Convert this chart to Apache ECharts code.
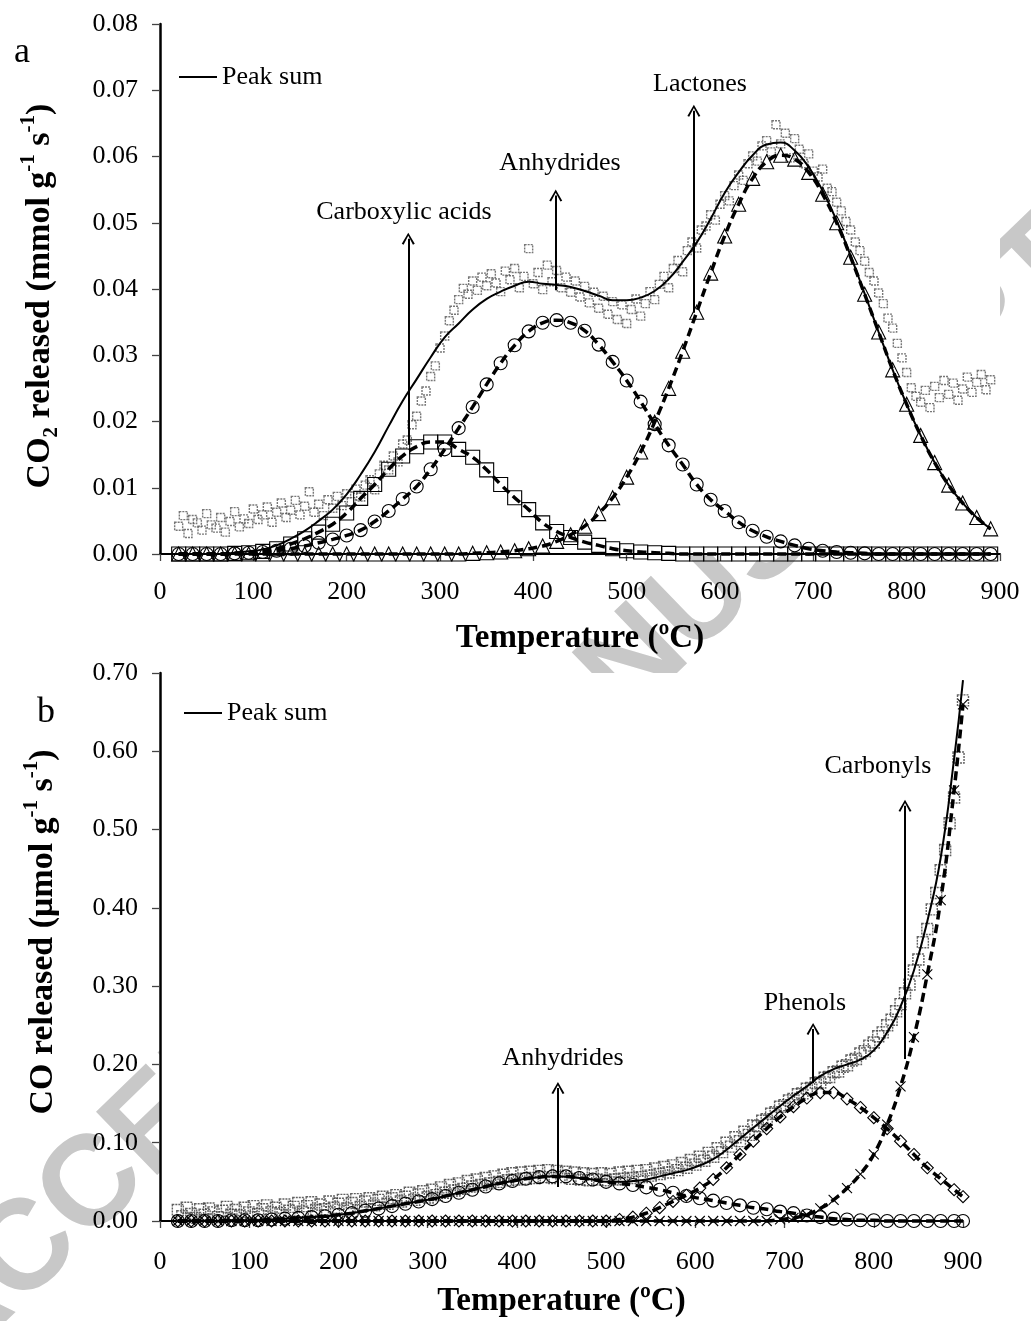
<!DOCTYPE html>
<html><head><meta charset="utf-8">
<script src="https://cdn.jsdelivr.net/npm/echarts/dist/echarts.min.js"></script>
<style>html,body{margin:0;padding:0;background:#fff}#c{width:1031px;height:1321px}</style>
</head><body><div id="c"></div><script>
// ---------- Panel a (CO2) ----------
const fitT_A = [20,35,50,65,80,95,110,125,140,155,170,185,200,215,230,245,260,275,290,305,320,335,350,365,380,395,410,425,440,455,470,485,500,515,530,545,560,575,590,605,620,635,650,665,680,695,710,725,740,755,770,785,800,815,830,845,860,875,890];
const carboxylicA = [0,0,0,0,0.0001,0.0002,0.0004,0.0008,0.0015,0.0023,0.0033,0.0045,0.0062,0.0084,0.0105,0.0128,0.0148,0.0162,0.0169,0.0169,0.0158,0.0146,0.0127,0.0105,0.0085,0.0067,0.0047,0.0034,0.0025,0.0018,0.0013,0.0008,0.0005,0.0003,0.0002,0.0001,0,0,0,0,0,0,0,0,0,0,0,0,0,0,0,0,0,0,0,0,0,0,0];
const anhydridesA = [0,0,0,0,0.0001,0.0002,0.0003,0.0005,0.0008,0.0012,0.0017,0.0022,0.0028,0.0036,0.0049,0.0065,0.0083,0.0102,0.0128,0.0158,0.0190,0.0222,0.0256,0.0288,0.0315,0.0336,0.0349,0.0353,0.0349,0.0337,0.0316,0.0290,0.0262,0.0230,0.0196,0.0164,0.0135,0.0105,0.0082,0.0065,0.0048,0.0035,0.0026,0.0019,0.0013,0.0008,0.0005,0.0003,0.0002,0.0001,0,0,0,0,0,0,0,0,0];
const lactonesA = [0,0,0,0,0,0,0,0,0,0,0,0,0,0,0,0,0,0,0,0,0,0.0001,0.0002,0.0003,0.0005,0.0008,0.0012,0.0019,0.0029,0.0042,0.0061,0.0085,0.0116,0.0154,0.0199,0.0250,0.0306,0.0365,0.0424,0.0480,0.0528,0.0567,0.0592,0.0602,0.0596,0.0576,0.0543,0.0500,0.0448,0.0392,0.0335,0.0278,0.0226,0.0179,0.0138,0.0104,0.0077,0.0055,0.0038];
const peakSumA = [0,0,0,0,0.0002,0.0004,0.0007,0.0013,0.0023,0.0035,0.0050,0.0067,0.0090,0.0120,0.0154,0.0193,0.0231,0.0264,0.0297,0.0327,0.0348,0.0369,0.0385,0.0396,0.0405,0.0411,0.0408,0.0406,0.0403,0.0397,0.0390,0.0383,0.0383,0.0387,0.0397,0.0415,0.0441,0.0470,0.0506,0.0545,0.0576,0.0602,0.0618,0.0621,0.0609,0.0584,0.0548,0.0503,0.0450,0.0393,0.0335,0.0278,0.0226,0.0179,0.0138,0.0104,0.0077,0.0055,0.0038];
const expT_A = [20,25,30,35,40,45,50,55,60,65,70,75,80,85,90,95,100,105,110,115,120,125,130,135,140,145,150,155,160,165,170,175,180,185,190,195,200,205,210,215,220,225,230,235,240,245,250,255,260,265,270,275,280,285,290,295,300,305,310,315,320,325,330,335,340,345,350,355,360,365,370,375,380,385,390,395,400,405,410,415,420,425,430,435,440,445,450,455,460,465,470,475,480,485,490,495,500,505,510,515,520,525,530,535,540,545,550,555,560,565,570,575,580,585,590,595,600,605,610,615,620,625,630,635,640,645,650,655,660,665,670,675,680,685,690,695,700,705,710,715,720,725,730,735,740,745,750,755,760,765,770,775,780,785,790,795,800,805,810,815,820,825,830,835,840,845,850,855,860,865,870,875,880,885,890];
const measuredA = [0.0042,0.0058,0.0031,0.0052,0.0047,0.0036,0.0061,0.0044,0.0039,0.0055,
0.0033,0.0049,0.0064,0.0041,0.0053,0.0046,0.0068,0.0052,0.0059,0.0071,
0.0048,0.0063,0.0077,0.0055,0.0066,0.0081,0.0059,0.0072,0.0094,0.0063,
0.0075,0.0058,0.0082,0.0069,0.0087,0.0073,0.0091,0.0079,0.0098,0.0086,
0.0104,0.0112,0.0097,0.0121,0.0134,0.0127,0.0148,0.0139,0.0166,0.0172,
0.0195,0.0208,0.0231,0.0246,0.0268,0.0284,0.0311,0.0329,0.0352,0.0368,
0.0384,0.0401,0.0392,0.0412,0.0398,0.0418,0.0405,0.0423,0.0409,0.0396,
0.0427,0.0414,0.0431,0.0402,0.0419,0.0461,0.0408,0.0425,0.0399,0.0436,
0.0411,0.0428,0.0402,0.0418,0.0395,0.0412,0.0388,0.0404,0.0379,0.0395,
0.0371,0.0389,0.0362,0.0381,0.0354,0.0376,0.0348,0.0369,0.0385,0.0359,
0.0378,0.0396,0.0384,0.0407,0.0419,0.0402,0.0431,0.0443,0.0426,0.0458,
0.0471,0.0462,0.0489,0.0495,0.0512,0.0504,0.0528,0.0541,0.0533,0.0556,
0.0572,0.0564,0.0589,0.0601,0.0593,0.0616,0.0624,0.0607,0.0648,0.0619,
0.0635,0.0598,0.0627,0.0611,0.0589,0.0604,0.0578,0.0569,0.0581,0.0552,
0.0547,0.0531,0.0518,0.0502,0.0489,0.0471,0.0458,0.0442,0.0425,0.0412,
0.0394,0.0378,0.0356,0.0341,0.0318,0.0296,0.0274,0.0251,0.0238,0.0229,
0.0247,0.0221,0.0253,0.0236,0.0262,0.0241,0.0258,0.0232,0.0249,0.0267,
0.0244,0.0259,0.0271,0.0248,0.0263];
const annotA = [{name:'Carboxylic acids', t:266, from:0.0165, to:0.0476, lt:261.4, lv:0.0516},
                {name:'Anhydrides', t:424, from:0.0398, to:0.0541, lt:428.6, lv:0.0590},
                {name:'Lactones', t:572, from:0.0364, to:0.0669, lt:578.6, lv:0.0709}];

// ---------- Panel b (CO) ----------
const fitT_B = [20,35,50,65,80,95,110,125,140,155,170,185,200,215,230,245,260,275,290,305,320,335,350,365,380,395,410,425,440,455,470,485,500,515,530,545,560,575,590,605,620,635,650,665,680,695,710,725,740,755,770,785,800,815,830,845,860,875,890,900];
const anhydridesB = [0,0,0,0,0.001,0.001,0.001,0.002,0.003,0.004,0.005,0.006,0.008,0.010,0.013,0.016,0.019,0.022,0.025,0.028,0.032,0.036,0.040,0.044,0.048,0.051,0.054,0.056,0.057,0.057,0.055,0.053,0.050,0.048,0.046,0.043,0.040,0.036,0.032,0.029,0.026,0.023,0.020,0.017,0.015,0.012,0.010,0.007,0.005,0.003,0.002,0.001,0.001,0,0,0,0,0,0,0];
const phenolsB = [0,0,0,0,0,0,0,0,0,0,0,0,0,0,0,0,0,0,0,0,0,0,0,0,0,0,0,0,0,0,0,0,0,0.002,0.005,0.010,0.017,0.025,0.033,0.042,0.053,0.068,0.085,0.102,0.118,0.133,0.146,0.157,0.164,0.164,0.156,0.145,0.132,0.118,0.102,0.085,0.068,0.054,0.040,0.031];
const carbonylsB = [0,0,0,0,0,0,0,0,0,0,0,0,0,0,0,0,0,0,0,0,0,0,0,0,0,0,0,0,0,0,0,0,0,0,0,0,0,0,0,0,0,0,0,0,0,0.002,0.004,0.008,0.016,0.027,0.042,0.060,0.085,0.123,0.172,0.235,0.315,0.410,0.550,0.660];
const peakSumB = [0,0,0,0,0.001,0.001,0.001,0.002,0.003,0.004,0.005,0.006,0.008,0.010,0.013,0.016,0.019,0.022,0.025,0.028,0.032,0.036,0.040,0.044,0.048,0.051,0.054,0.056,0.057,0.057,0.055,0.053,0.050,0.050,0.051,0.053,0.057,0.061,0.065,0.071,0.079,0.091,0.105,0.119,0.133,0.147,0.160,0.172,0.185,0.194,0.200,0.206,0.218,0.241,0.274,0.320,0.383,0.464,0.590,0.691];
const expT_B = [20,25,30,35,40,45,50,55,60,65,70,75,80,85,90,95,100,105,110,115,120,125,130,135,140,145,150,155,160,165,170,175,180,185,190,195,200,205,210,215,220,225,230,235,240,245,250,255,260,265,270,275,280,285,290,295,300,305,310,315,320,325,330,335,340,345,350,355,360,365,370,375,380,385,390,395,400,405,410,415,420,425,430,435,440,445,450,455,460,465,470,475,480,485,490,495,500,505,510,515,520,525,530,535,540,545,550,555,560,565,570,575,580,585,590,595,600,605,610,615,620,625,630,635,640,645,650,655,660,665,670,675,680,685,690,695,700,705,710,715,720,725,730,735,740,745,750,755,760,765,770,775,780,785,790,795,800,805,810,815,820,825,830,835,840,845,850,855,860,865,870,875,880,885,890,895,900];
const measuredB = [0.014,0.006,0.017,0.009,0.004,0.015,0.008,0.016,0.011,0.005,
0.013,0.018,0.008,0.014,0.007,0.017,0.011,0.019,0.009,0.015,
0.020,0.011,0.017,0.010,0.021,0.013,0.018,0.023,0.012,0.019,
0.024,0.014,0.021,0.015,0.025,0.017,0.022,0.027,0.016,0.023,
0.028,0.018,0.025,0.029,0.020,0.027,0.031,0.022,0.029,0.033,
0.025,0.031,0.036,0.027,0.034,0.038,0.030,0.040,0.033,0.043,
0.036,0.046,0.039,0.048,0.041,0.051,0.044,0.053,0.046,0.055,
0.048,0.057,0.050,0.059,0.052,0.061,0.053,0.062,0.054,0.063,
0.055,0.064,0.056,0.065,0.055,0.064,0.056,0.063,0.054,0.062,
0.053,0.061,0.052,0.060,0.053,0.061,0.052,0.060,0.053,0.062,
0.054,0.063,0.055,0.064,0.056,0.065,0.058,0.067,0.060,0.069,
0.062,0.071,0.065,0.074,0.068,0.078,0.072,0.082,0.077,0.087,
0.082,0.093,0.088,0.100,0.095,0.107,0.102,0.114,0.110,0.122,
0.121,0.128,0.130,0.137,0.139,0.146,0.148,0.154,0.156,0.162,
0.163,0.169,0.170,0.176,0.177,0.183,0.184,0.190,0.191,0.197,
0.199,0.205,0.207,0.214,0.217,0.224,0.228,0.236,0.241,0.250,
0.257,0.268,0.277,0.291,0.302,0.320,0.334,0.356,0.373,0.398,
0.419,0.448,0.474,0.508,0.541,0.592,0.665];
const annotB = [{name:'Anhydrides', t:446, from:0.0434, to:0.1698, lt:451.7, lv:0.2082},
                {name:'Phenols', t:732, from:0.176, to:0.2453, lt:722.9, lv:0.2784},
                {name:'Carbonyls', t:835, from:0.207, to:0.5303, lt:804.7, lv:0.5811}];

// ---------- rendering ----------
const SERIF = '"Liberation Serif","Times New Roman",serif';
const pair = (xs, ys) => xs.map((x, i) => [x, ys[i]]);
const hollow = {color:'rgba(0,0,0,0)', borderColor:'#000', borderWidth:1.1};
const dashed = {color:'#000', width:3.5, type:[9,5]};
const CROSS = 'path://M0,0L10,10M10,0L0,10';
const ARROW = 'path://M0,10L5,0L10,10L8.6,10.8L5,2.8L1.4,10.8Z';

function fitSeries(name, gi, xs, ys, symbol, size) {
  return {name, type:'line', xAxisIndex:gi, yAxisIndex:gi, data:pair(xs, ys), smooth:true,
    symbol, symbolSize:size, itemStyle:hollow, lineStyle:dashed, z:3, clip:false, silent:true};
}
function annotations(list) {
  return {
    markLine: {silent:true, symbol:['none', ARROW], symbolSize:[13,12], label:{show:false},
      lineStyle:{type:'solid', color:'#000', width:2},
      data: list.map(a => [{coord:[a.t, a.from]}, {coord:[a.t, a.to]}])},
    markPoint: {silent:true, symbol:'circle', symbolSize:1, itemStyle:{color:'rgba(0,0,0,0)'},
      label:{show:true, position:'inside', formatter:p => p.name, color:'#000', fontSize:26, fontFamily:SERIF},
      data: list.map(a => ({name:a.name, coord:[a.lt, a.lv]}))}
  };
}
function peakSeries(gi, xs, ys, annot) {
  return Object.assign({name:'Peak sum', type:'line', xAxisIndex:gi, yAxisIndex:gi, data:pair(xs, ys), smooth:true,
    symbol:'none', itemStyle:{color:'#000'}, lineStyle:{color:'#000', width:2}, z:5, clip:false, silent:true},
    annotations(annot));
}
function measuredSeries(gi, xs, ys, size, col) {
  return {name:'Measured', type:'scatter', xAxisIndex:gi, yAxisIndex:gi, data:pair(xs, ys),
    symbol:'rect', symbolSize:size,
    itemStyle:{color:'rgba(255,255,255,0)', borderColor:col, borderWidth:1.4, borderType:[2,1]},
    z:2, silent:true};
}
function xAxis(gi, labelMargin, nameGap) {
  return {type:'value', gridIndex:gi, min:0, max:900, interval:100,
    name:'Temperature (ºC)', nameLocation:'middle', nameGap,
    nameTextStyle:{fontFamily:SERIF, fontSize:33, fontWeight:'bold', color:'#000'},
    axisLine:{lineStyle:{color:'#000', width:2}},
    axisTick:{show:true, length:7, lineStyle:{color:'#444', width:1.3}},
    axisLabel:{fontFamily:SERIF, fontSize:26, color:'#000', margin:labelMargin},
    splitLine:{show:false}};
}
const titleRich = {
  n:{fontFamily:SERIF, fontSize:34, fontWeight:'bold', color:'#000', lineHeight:44},
  sup:{fontFamily:SERIF, fontSize:21, fontWeight:'bold', color:'#000', lineHeight:22, verticalAlign:'top'},
  sub:{fontFamily:SERIF, fontSize:21, fontWeight:'bold', color:'#000', lineHeight:22, verticalAlign:'bottom'}
};
function yAxis(gi, max, interval, name, nameGap, pad) {
  return {type:'value', gridIndex:gi, min:0, max, interval,
    name, nameLocation:'middle', nameRotate:90, nameGap,
    nameTextStyle:{rich:titleRich, padding:pad},
    axisLine:{show:true, lineStyle:{color:'#000', width:2.5}},
    axisTick:{show:true, length:8, lineStyle:{color:'#444', width:1.3}},
    axisLabel:{fontFamily:SERIF, fontSize:26, color:'#000', margin:22, formatter:v => v.toFixed(2)},
    splitLine:{show:false}};
}
const legendCommon = {data:['Peak sum'], icon:'path://M0,0H40V2H0Z', itemWidth:38, itemHeight:2, padding:0,
  selectedMode:false, itemStyle:{color:'#000', borderWidth:0},
  textStyle:{fontFamily:SERIF, fontSize:26, color:'#000'}};

const chart = echarts.init(document.getElementById('c'), null, {renderer:'canvas'});
chart.setOption({
  animation:false,
  backgroundColor:'#fff',
  graphic:[
    {type:'text', x:500, y:795, rotation:0.768, z:-100, silent:true,
     style:{text:'ACCEPTED MANUSCRIPT', font:'bold 128px "Liberation Sans", Arial, sans-serif', fill:'#c8c8c8', align:'center', verticalAlign:'middle'}},
    {type:'text', x:22, y:53, z:10, style:{text:'a', font:'36px "Liberation Serif", serif', fill:'#000', align:'center', verticalAlign:'middle'}},
    {type:'text', x:46, y:713, z:10, style:{text:'b', font:'36px "Liberation Serif", serif', fill:'#000', align:'center', verticalAlign:'middle'}}
  ],
  legend:[Object.assign({left:179, top:64}, legendCommon), Object.assign({left:184, top:700}, legendCommon)],
  grid:[
    {left:160, top:24, width:840, height:530, show:true, backgroundColor:'#fff', borderWidth:0},
    {left:160, top:673, width:803, height:548, show:true, backgroundColor:'#fff', borderWidth:0}
  ],
  xAxis:[xAxis(0, 25, 68), xAxis(1, 28, 64)],
  yAxis:[
    yAxis(0, 0.08, 0.01, '{n|CO}{sub|2}{n| released (mmol g}{sup|-1}{n| s}{sup|-1}{n|)}', 98, [0,14,0,0]),
    yAxis(1, 0.7, 0.1, '{n|CO released (μmol g}{sup|-1}{n| s}{sup|-1}{n|)}', 95, [0,0,0,30])
  ],
  series:[
    measuredSeries(0, expT_A, measuredA, 8, '#555'),
    fitSeries('Carboxylic acids', 0, fitT_A, carboxylicA, 'rect', 14),
    fitSeries('Anhydrides', 0, fitT_A, anhydridesA, 'circle', 13),
    fitSeries('Lactones', 0, fitT_A, lactonesA, 'triangle', 14),
    peakSeries(0, fitT_A, peakSumA, annotA),
    measuredSeries(1, expT_B, measuredB, 11, '#3a3a3a'),
    fitSeries('Anhydrides', 1, fitT_B, anhydridesB, 'circle', 13),
    fitSeries('Phenols', 1, fitT_B, phenolsB, 'diamond', 12),
    fitSeries('Carbonyls', 1, fitT_B, carbonylsB, CROSS, 10),
    peakSeries(1, fitT_B, peakSumB, annotB)
  ]
});
</script></body></html>
